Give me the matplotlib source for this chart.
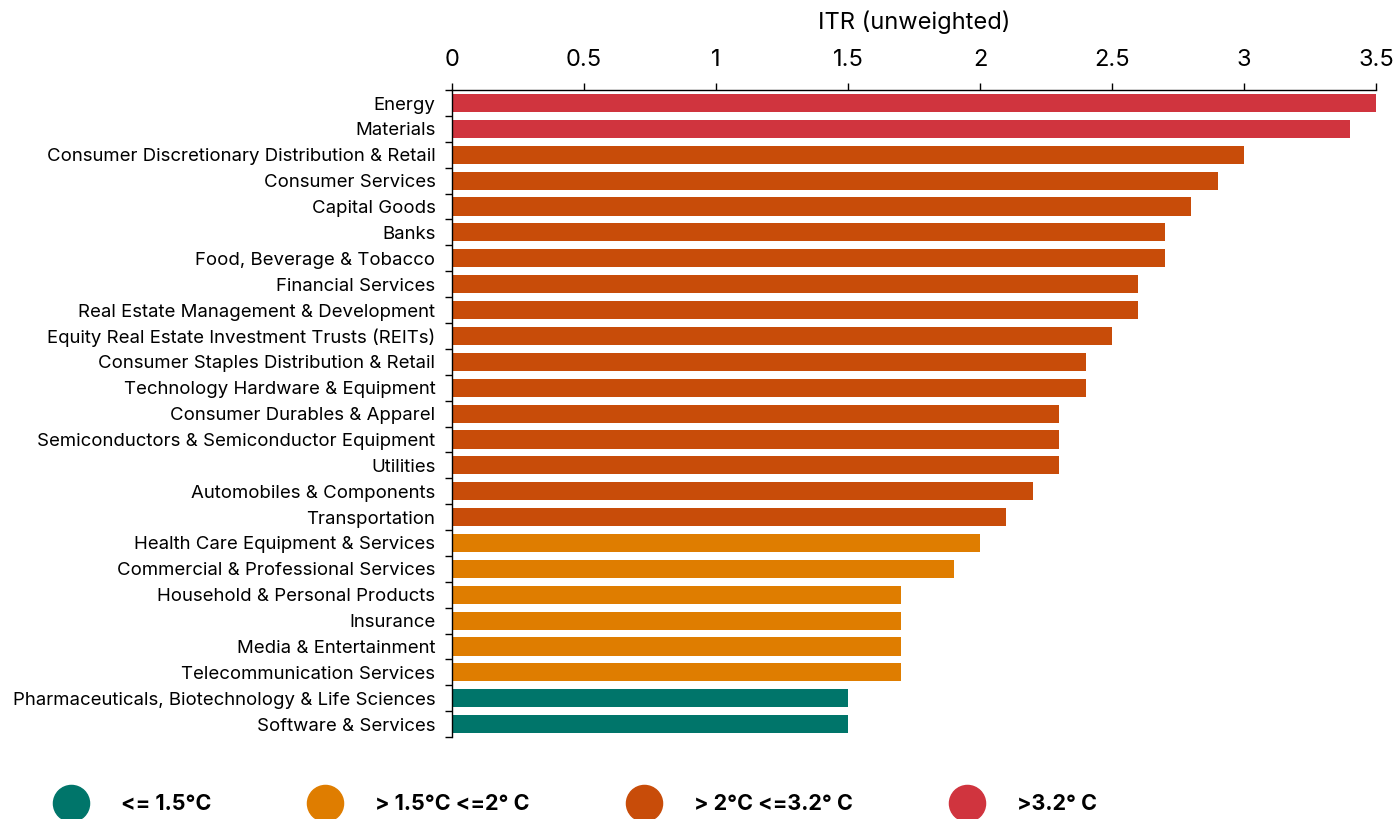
import matplotlib

matplotlib.use("Agg")
import matplotlib.pyplot as plt
import numpy as np
from matplotlib.lines import Line2D

plt.rcParams["font.family"] = ["Inter", "DejaVu Sans"]

SECTORS = [
    "Energy",
    "Materials",
    "Consumer Discretionary Distribution & Retail",
    "Consumer Services",
    "Capital Goods",
    "Banks",
    "Food, Beverage & Tobacco",
    "Financial Services",
    "Real Estate Management & Development",
    "Equity Real Estate Investment Trusts (REITs)",
    "Consumer Staples Distribution & Retail",
    "Technology Hardware & Equipment",
    "Consumer Durables & Apparel",
    "Semiconductors & Semiconductor Equipment",
    "Utilities",
    "Automobiles & Components",
    "Transportation",
    "Health Care Equipment & Services",
    "Commercial & Professional Services",
    "Household & Personal Products",
    "Insurance",
    "Media & Entertainment",
    "Telecommunication Services",
    "Pharmaceuticals, Biotechnology & Life Sciences",
    "Software & Services",
]
ITR = [3.5, 3.4, 3.0, 2.9, 2.8, 2.7, 2.7, 2.6, 2.6, 2.5, 2.4, 2.4, 2.3, 2.3,
       2.3, 2.2, 2.1, 2.0, 1.9, 1.7, 1.7, 1.7, 1.7, 1.5, 1.5]

BANDS = ["<= 1.5°C", "> 1.5°C <=2° C", "> 2°C <=3.2° C", ">3.2° C"]
BAND_COLORS = ["#00756a", "#df7d00", "#c84c09", "#d0343e"]


def band(v):
    if v <= 1.5:
        return 0
    if v <= 2.0:
        return 1
    if v <= 3.2:
        return 2
    return 3


fig = plt.figure(figsize=(13.97, 8.19), dpi=100)
ax = fig.add_axes([0.3236, 0.100, 0.6614, 0.790])

y = np.arange(len(SECTORS))
colors = [BAND_COLORS[band(v)] for v in ITR]
ax.barh(y, ITR, height=0.7, color=colors)

ax.set_ylim(len(SECTORS) - 0.5, -0.5)
ax.set_xlim(0, 3.5)
ax.set_yticks(y)
ax.set_yticklabels(SECTORS, fontsize=13.4)
ax.set_yticks(np.arange(len(SECTORS) + 1) - 0.5, minor=True)
ax.tick_params(axis="y", which="major", length=0, pad=12)
ax.tick_params(axis="y", which="minor", length=5, width=1, direction="out")

ax.xaxis.tick_top()
ax.xaxis.set_label_position("top")
ax.set_xticks([0, 0.5, 1, 1.5, 2, 2.5, 3, 3.5])
ax.set_xticklabels(["0", "0.5", "1", "1.5", "2", "2.5", "3", "3.5"], fontsize=17)
ax.tick_params(axis="x", length=5, width=1, pad=9)
ax.set_xlabel("ITR (unweighted)", fontsize=17, labelpad=14)

for s in ["right", "bottom"]:
    ax.spines[s].set_visible(False)
for s in ["top", "left"]:
    ax.spines[s].set_linewidth(1)

handles = [Line2D([], [], ls="none", marker="o", markersize=26, color=c)
           for c in BAND_COLORS]
leg = fig.legend(handles, BANDS, loc="center left", ncol=4,
                 bbox_to_anchor=(0.0354, 0.018), frameon=False,
                 prop={"weight": "bold", "size": 15.5},
                 handletextpad=1.32, columnspacing=4.3, borderaxespad=0,
                 borderpad=0)

fig.savefig("out.png", dpi=100)
